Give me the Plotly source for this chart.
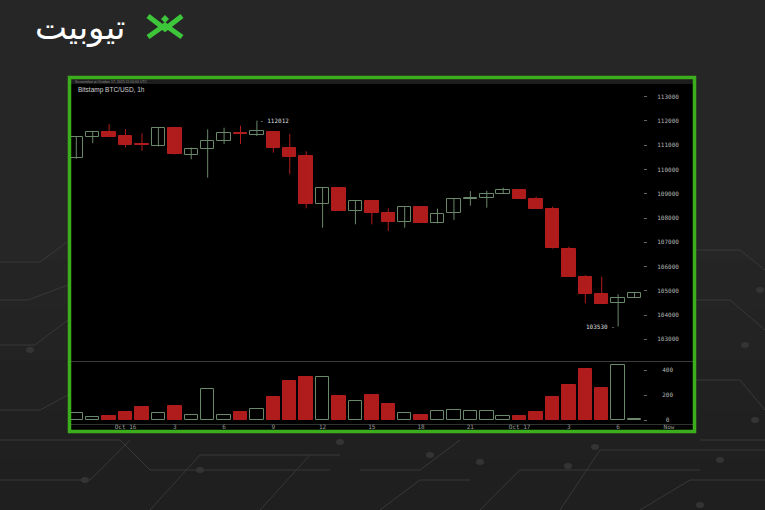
import plotly.graph_objects as go
from datetime import datetime, timedelta

# ---------------- data ----------------
start_time = "2025-10-15 21:00"
opens  = [110490, 111330, 111545, 111390, 111050, 110970, 111710, 110585, 110860, 111185,
          111490, 111420, 111560, 110900, 110570, 108580, 109250, 108290, 108700, 108220,
          107820, 108465, 107805, 108195, 108790, 108840, 109000, 109165, 108785, 108385,
          106720, 105580, 104865, 104510, 104715]
highs  = [111360, 111580, 111875, 111670, 111490, 111740, 111760, 110900, 111655, 111720,
          111805, 112012, 111590, 111460, 110750, 109280, 109280, 108700, 108720, 108400,
          108445, 108480, 108385, 108800, 109110, 109125, 109250, 109180, 108880, 108465,
          106815, 105650, 105580, 104855, 104930]
lows   = [110440, 111080, 111340, 110910, 110770, 110950, 110620, 110420, 109660, 111050,
          111050, 111380, 110690, 109800, 108400, 107600, 108290, 107740, 107740, 107465,
          107600, 107790, 107780, 107920, 108505, 108425, 108995, 108790, 108370, 106740,
          105570, 104485, 104455, 103530, 104700]
closes = [111330, 111560, 111350, 111020, 111000, 111700, 110630, 110830, 111160, 111490,
          111450, 111575, 110875, 110530, 108580, 109240, 108290, 108700, 108205, 107820,
          108440, 107795, 108165, 108795, 108820, 109000, 109165, 108795, 108370, 106750,
          105580, 104865, 104455, 104690, 104920]
volumes = [53, 27, 32, 61, 107, 59, 112, 37, 251, 40, 61, 85, 181, 312, 347, 347, 192, 155,
           197, 131, 59, 40, 75, 77, 75, 69, 29, 29, 67, 187, 277, 408, 259, 437, 8]

price_ticks = [103000, 104000, 105000, 106000, 107000, 108000, 109000,
               110000, 111000, 112000, 113000]
price_tick_labels = [str(v) for v in price_ticks]
volume_ticks = [0, 200, 400]
volume_tick_labels = ["\u00a00", "200", "400"]
time_ticks = ["2025-10-16 00:00", "2025-10-16 03:00", "2025-10-16 06:00", "2025-10-16 09:00",
              "2025-10-16 12:00", "2025-10-16 15:00", "2025-10-16 18:00", "2025-10-16 21:00",
              "2025-10-17 00:00", "2025-10-17 03:00", "2025-10-17 06:00", "2025-10-17 09:06"]
time_tick_labels = ["Oct 16", "3", "6", "9", "12", "15", "18", "21", "Oct 17", "3", "6", "Now"]
title_text = "Bitstamp BTC/USD, 1h"
header_text = "Screenshot at October 17, 2025 11:00:00 UTC"
high_label = "- 112012"
low_label = "103530 -"
logo_text = "تیوبیت"

# ---------------- styling ----------------
W, H = 765, 510
RED = "#b01c1c"
GREEN = "#6a886a"
BORDER = "#3cae1e"
LOGO_GREEN = "#3dc63a"
BG = "#262626"
MONO = "DejaVu Sans Mono"

def px(x):
    return x / W

def py(y):
    return 1 - y / H

t0 = datetime.strptime(start_time, "%Y-%m-%d %H:%M")
times = [t0 + timedelta(hours=i) for i in range(len(opens))]
up = [c >= o for o, c in zip(opens, closes)]

body_base = [min(o, c) for o, c in zip(opens, closes)]
body_h = [max(abs(c - o), 35) for o, c in zip(opens, closes)]
fill_cols = ["#000000" if u else RED for u in up]
line_cols = [GREEN if u else RED for u in up]

def wicks(flag):
    xs, ys = [], []
    for t, h, l, u in zip(times, highs, lows, up):
        if u == flag:
            xs += [t, t, None]
            ys += [l, h, None]
    return xs, ys

fig = go.Figure()
gx, gy = wicks(True)
rx, ry = wicks(False)
fig.add_trace(go.Scatter(x=gx, y=gy, mode="lines", line=dict(color=GREEN, width=1),
                         xaxis="x", yaxis="y", hoverinfo="skip"))
fig.add_trace(go.Scatter(x=rx, y=ry, mode="lines", line=dict(color=RED, width=1),
                         xaxis="x", yaxis="y", hoverinfo="skip"))
bar_w = 0.82 * 3600 * 1000
fig.add_trace(go.Bar(x=times, y=body_h, base=body_base, width=bar_w,
                     marker=dict(color=fill_cols, line=dict(color=line_cols, width=1)),
                     xaxis="x", yaxis="y"))
fig.add_trace(go.Bar(x=times, y=volumes, width=bar_w,
                     marker=dict(color=fill_cols, line=dict(color=line_cols, width=1)),
                     xaxis="x2", yaxis="y2"))

xr = [t0 - timedelta(hours=0.384), t0 + timedelta(hours=37.62)]
yr_price = [102105.5, 113729.6]
yr_vol = [-32, 472]

tickfont = dict(family=MONO, size=6, color="#b5b5b5")

fig.update_layout(
    width=W, height=H, margin=dict(l=0, r=0, t=0, b=0),
    paper_bgcolor=BG, plot_bgcolor="rgba(0,0,0,0)",
    showlegend=False, barmode="overlay", bargap=0,
    xaxis=dict(domain=[px(70), px(694)], anchor="y", range=xr, showgrid=False,
               zeroline=False, showticklabels=False, showline=True,
               linecolor="#3a3a3a", linewidth=1, ticks=""),
    yaxis=dict(domain=[py(361), py(79)], anchor="free", position=px(643), side="right",
               range=yr_price, tickvals=price_ticks, ticktext=price_tick_labels,
               ticks="outside", ticklen=3,
               tickcolor="#666666", showgrid=False, zeroline=False, showline=False,
               tickfont=tickfont, ticklabelstandoff=9),
    xaxis2=dict(domain=[px(70), px(694)], anchor="y2", range=xr, showgrid=False,
                zeroline=False, tickvals=time_ticks, ticktext=time_tick_labels,
                ticks="", showline=True, linecolor="#333333", linewidth=1,
                tickfont=dict(family=MONO, size=6, color="#9a9a9a"), tickangle=0,
                ticklabelstandoff=-3),
    yaxis2=dict(domain=[py(424), py(361)], anchor="free", position=px(643), side="right",
                range=yr_vol, tickvals=volume_ticks, ticktext=volume_tick_labels,
                ticks="outside", ticklen=3, tickcolor="#666666", showgrid=False,
                zeroline=False, showline=False, tickfont=tickfont, ticklabelstandoff=14),
)

shapes = []
# subtle darkening toward the bottom of the background
for i, col in enumerate(["#242424", "#232323", "#212121", "#202020", "#1f1f1f"]):
    y0 = 260 + i * 50
    shapes.append(dict(type="rect", x0=0, x1=W, y0=y0 + 50 if i < 4 else H, y1=y0,
                       line=dict(width=0), fillcolor=col, layer="below"))
# circuit-board decoration
circuit = [
    "M0,262 L40,262 L70,240",
    "M0,300 L28,300 L68,285",
    "M0,345 L35,345 L68,320",
    "M0,440 L120,440 L150,470 L330,470",
    "M0,480 L90,480 L130,440",
    "M150,510 L200,455 L340,455",
    "M260,510 L310,455",
    "M360,470 L420,470 L460,440",
    "M480,510 L520,470 L700,470",
    "M560,510 L600,450 L765,450",
    "M640,510 L690,480 L765,480",
    "M700,440 L765,440",
    "M696,300 L730,300 L765,330",
    "M696,250 L740,250 L765,270",
    "M696,380 L740,380 L765,410",
    "M0,410 L40,410 L68,395",
    "M380,510 L420,480 L470,480",
]
for p in circuit:
    shapes.append(dict(type="path", path=p, line=dict(color="#383838", width=1),
                       layer="below"))
dots = [(30, 350), (85, 480), (200, 470), (340, 442), (430, 455), (480, 462),
        (568, 466), (595, 447), (720, 460), (755, 420), (745, 345), (700, 505),
        (760, 290)]
for cx, cy in dots:
    shapes.append(dict(type="circle", x0=cx - 4, x1=cx + 4, y0=cy - 3, y1=cy + 3,
                       line=dict(width=0), fillcolor="#343434", layer="below"))

for s in shapes:
    s["xref"] = "paper"
    s["yref"] = "paper"
    if s["type"] == "path":
        pts = s["path"].replace("M", "M ").replace("L", "L ").split()
        out = []
        for tok in pts:
            if tok in ("M", "L"):
                out.append(tok)
            else:
                xs, ys = tok.split(",")
                out.append(f"{px(float(xs)):.5f},{py(float(ys)):.5f}")
        s["path"] = " ".join(out)
    else:
        s["x0"], s["x1"] = px(s["x0"]), px(s["x1"])
        s["y0"], s["y1"] = py(s["y0"]), py(s["y1"])

# chart panel
shapes.append(dict(type="rect", xref="paper", yref="paper", x0=px(69), x1=px(695),
                   y0=py(432), y1=py(77), fillcolor="#000000", line=dict(width=0),
                   layer="below"))
shapes.append(dict(type="rect", xref="paper", yref="paper", x0=px(71), x1=px(693),
                   y0=py(84), y1=py(79), fillcolor="#1d1d1d", line=dict(width=0),
                   layer="below"))
shapes.append(dict(type="rect", xref="paper", yref="paper", x0=px(69.5), x1=px(694.5),
                   y0=py(431.5), y1=py(77.5), fillcolor="rgba(0,0,0,0)",
                   line=dict(color=BORDER, width=3.5), layer="above"))

# logo icon
def logo_path(points):
    return "M " + " L ".join(f"{px(x):.5f},{py(y):.5f}" for x, y in points)

shapes.append(dict(type="path", xref="paper", yref="paper",
                   path=logo_path([(148, 16), (165, 29), (182, 16)]),
                   line=dict(color=LOGO_GREEN, width=5)))
shapes.append(dict(type="path", xref="paper", yref="paper",
                   path=logo_path([(148, 37), (165, 25), (182, 37)]),
                   line=dict(color=LOGO_GREEN, width=5)))
shapes.append(dict(type="path", xref="paper", yref="paper",
                   path=logo_path([(165, 15), (169, 19), (165, 23), (161, 19)]) + " Z",
                   fillcolor=LOGO_GREEN, line=dict(color=LOGO_GREEN, width=0)))

fig.update_layout(shapes=shapes)

annotations = [
    dict(text=title_text, x=px(76), y=py(90), xref="paper", yref="paper",
         xanchor="left", yanchor="middle", showarrow=False,
         font=dict(family="Liberation Sans", size=6.5, color="#d0d0d0")),
    dict(text=header_text, x=px(73), y=py(81.5), xref="paper", yref="paper",
         xanchor="left", yanchor="middle", showarrow=False,
         font=dict(family="Liberation Sans", size=3.5, color="#8a8a8a")),
    dict(text=high_label, x=times[11], y=highs[11], xref="x", yref="y",
         xanchor="left", yanchor="middle", xshift=1, showarrow=False,
         font=dict(family=MONO, size=6, color="#dddddd")),
    dict(text=low_label, x=times[33], y=lows[33], xref="x", yref="y",
         xanchor="right", yanchor="middle", xshift=-1, showarrow=False,
         font=dict(family=MONO, size=6, color="#dddddd")),
    dict(text=logo_text, x=px(80), y=py(27), xref="paper", yref="paper",
         xanchor="center", yanchor="middle", showarrow=False,
         font=dict(family="DejaVu Sans", size=34, color="#ffffff")),
]
fig.update_layout(annotations=annotations)

fig.write_html("out.html")
